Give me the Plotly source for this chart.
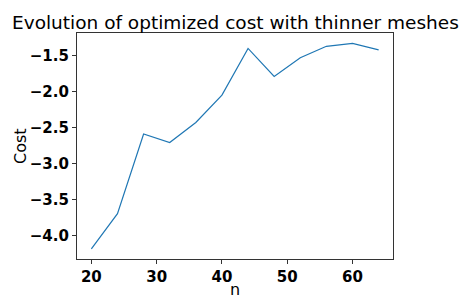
import plotly.graph_objects as go

n_values = [20, 24, 28, 32, 36, 40, 44, 48, 52, 56, 60, 64]
cost_values = [-4.19, -3.70, -2.59, -2.71, -2.43, -2.05, -1.40, -1.79, -1.53, -1.37, -1.33, -1.42]
x_ticks = [20, 30, 40, 50, 60]
y_ticks = [-4.0, -3.5, -3.0, -2.5, -2.0, -1.5]

fig = go.Figure()
fig.add_trace(go.Scatter(x=n_values, y=cost_values, mode="lines",
                         line=dict(color="#1f77b4", width=1.2), showlegend=False))

axis_common = dict(showline=True, linecolor="#333333", linewidth=1.2, mirror=True,
                   ticks="outside", ticklen=4, tickcolor="#333333", tickwidth=1,
                   showgrid=False, zeroline=False,
                   tickfont=dict(family="DejaVu Sans", size=15, color="black", weight="bold"))

fig.update_layout(
    width=462, height=298,
    margin=dict(l=77, r=69, t=33, b=35),
    paper_bgcolor="white", plot_bgcolor="white",
    xaxis=dict(axis_common, range=[17.8, 66.2], tickvals=x_ticks,
               ticktext=[str(v) for v in x_ticks]),
    yaxis=dict(axis_common, range=[-4.33, -1.185], tickvals=y_ticks,
               ticktext=["\u2212" + f"{abs(v):.1f}" for v in y_ticks]),
    annotations=[
        dict(text="Evolution of optimized cost with thinner meshes",
             font=dict(family="DejaVu Sans", size=18.5, color="black"),
             xref="paper", yref="paper", x=0.5, y=1.048, xanchor="center", yanchor="middle",
             showarrow=False),
        dict(text="n", font=dict(family="DejaVu Sans", size=16, color="black"),
             xref="paper", yref="paper", x=0.5, y=-35 / 230, xanchor="center", yanchor="bottom",
             yshift=-8, showarrow=False),
        dict(text="Cost", font=dict(family="DejaVu Sans", size=16, color="black"),
             xref="paper", yref="paper", x=(20 - 77) / 316, y=0.5, xanchor="center", yanchor="middle",
             textangle=-90, showarrow=False),
    ],
)

fig.write_html("out.html", config={"displayModeBar": False},
               post_script="document.body.style.margin='0';document.body.style.overflow='hidden';")
